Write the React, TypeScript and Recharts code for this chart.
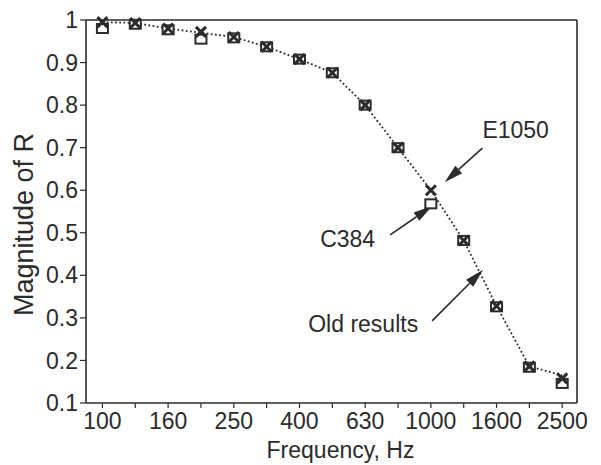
import React from "react";
import {
  ComposedChart,
  Line,
  XAxis,
  YAxis,
  ReferenceLine,
} from "recharts";

const frequencies = ["100", "125", "160", "200", "250", "315", "400", "500", "630", "800", "1000", "1250", "1600", "2000", "2500"];
const oldResults = [0.995, 0.993, 0.98, 0.97, 0.96, 0.937, 0.908, 0.876, 0.8, 0.7, 0.6, 0.482, 0.328, 0.186, 0.165];
const e1050 = [0.995, 0.993, 0.98, 0.972, 0.96, 0.937, 0.908, 0.876, 0.8, 0.7, 0.6, 0.482, 0.328, 0.186, 0.158];
const c384 = [0.98, 0.99, 0.977, 0.955, 0.958, 0.937, 0.908, 0.876, 0.8, 0.7, 0.568, 0.482, 0.326, 0.184, 0.146];
const yTicks = [0.1, 0.2, 0.3, 0.4, 0.5, 0.6, 0.7, 0.8, 0.9, 1];

const data = frequencies.map((f, i) => ({
  i,
  f,
  old: oldResults[i],
  e1050: e1050[i],
  c384: c384[i],
}));

const INK = "#2b2b2b";
const FONT = "'Liberation Sans', Arial, sans-serif";

const Cross = (props: any) => {
  const { cx, cy } = props;
  if (cx == null || cy == null) return null;
  const s = 5;
  return (
    <g>
      <line x1={cx - s} y1={cy - s} x2={cx + s} y2={cy + s} stroke={INK} strokeWidth={3} />
      <line x1={cx - s} y1={cy + s} x2={cx + s} y2={cy - s} stroke={INK} strokeWidth={3} />
    </g>
  );
};

const OpenSquare = (props: any) => {
  const { cx, cy } = props;
  if (cx == null || cy == null) return null;
  return <rect x={cx - 5.5} y={cy - 4.5} width={11} height={9} fill="#fff" stroke={INK} strokeWidth={2} />;
};

const YTitle = (props: any) => {
  const vb = props.viewBox || {};
  const cy = vb.y + vb.height / 2 + 13;
  return (
    <text
      x={24}
      y={cy}
      transform={`rotate(-90, 24, ${cy})`}
      textAnchor="middle"
      dominantBaseline="central"
      fontSize={27}
      fill={INK}
      fontFamily={FONT}
    >
      Magnitude of R
    </text>
  );
};

const XTitle = (props: any) => {
  const vb = props.viewBox || {};
  return (
    <text x={vb.x + vb.width / 2 + 9} y={458} textAnchor="middle" fontSize={23} fill={INK} fontFamily={FONT}>
      Frequency, Hz
    </text>
  );
};

// arrow from its start (next to the text) to the tip, plus the label
const arrowShape = (text: string, dx: number, dy: number, anchor: "start" | "end") => (props: any) => {
  const { x1, y1, x2, y2 } = props;
  if ([x1, y1, x2, y2].some((v) => v == null || isNaN(v))) return null;
  const ang = Math.atan2(y2 - y1, x2 - x1);
  const len = 19;
  const w = 5;
  const bx = x2 - len * Math.cos(ang);
  const by = y2 - len * Math.sin(ang);
  const px = -Math.sin(ang) * w;
  const py = Math.cos(ang) * w;
  return (
    <g>
      <line x1={x1} y1={y1} x2={bx} y2={by} stroke={INK} strokeWidth={1.6} />
      <polygon points={`${x2},${y2} ${bx + px},${by + py} ${bx - px},${by - py}`} fill={INK} />
      <text x={x1 + dx} y={y1 + dy} textAnchor={anchor} fontSize={23} fill={INK} fontFamily={FONT}>
        {text}
      </text>
    </g>
  );
};

export default function App() {
  return (
    <div style={{ position: "absolute", left: 0, top: 0, background: "#fff" }}>
      <ComposedChart
        width={601}
        height={465}
        data={data}
        margin={{ top: 20, right: 24, bottom: 0, left: 0 }}
        style={{ fontFamily: FONT }}
      >
        <XAxis
          dataKey="i"
          type="number"
          domain={[-0.5, 14.45]}
          ticks={data.map((d) => d.i)}
          interval={0}
          tickFormatter={(v: number) => (v % 2 === 0 ? frequencies[v] : "")}
          tick={{ fill: INK, fontSize: 23, fontFamily: FONT }}
          tickSize={5}
          tickMargin={5}
          axisLine={{ stroke: INK, strokeWidth: 1.6 }}
          tickLine={{ stroke: INK, strokeWidth: 1.2 }}
          height={62}
          label={<XTitle />}
        />
        <YAxis
          type="number"
          domain={[0.1, 1]}
          ticks={yTicks}
          interval={0}
          tickFormatter={(v: number) => (v === 1 ? "1" : v.toFixed(1))}
          tick={{ fill: INK, fontSize: 23, fontFamily: FONT }}
          tickSize={6}
          tickMargin={2}
          axisLine={{ stroke: INK, strokeWidth: 1.6 }}
          tickLine={{ stroke: INK, strokeWidth: 1.2 }}
          width={86}
          label={<YTitle />}
        />
        <ReferenceLine y={1} stroke={INK} strokeWidth={1.6} />
        <ReferenceLine x={14.45} stroke={INK} strokeWidth={1.6} />
        <Line
          dataKey="old"
          stroke={INK}
          strokeWidth={1.8}
          strokeDasharray="1.8 2.4"
          dot={false}
          activeDot={false}
          isAnimationActive={false}
        />
        <Line dataKey="c384" stroke="none" dot={<OpenSquare />} activeDot={false} isAnimationActive={false} />
        <Line dataKey="e1050" stroke="none" dot={<Cross />} activeDot={false} isAnimationActive={false} />
        <ReferenceLine
          segment={[{ x: 11.57, y: 0.699 }, { x: 10.42, y: 0.619 }]}
          shape={arrowShape("E1050", 0, -10, "start")}
        />
        <ReferenceLine
          segment={[{ x: 8.76, y: 0.495 }, { x: 10.04, y: 0.563 }]}
          shape={arrowShape("C384", -15, 12, "end")}
        />
        <ReferenceLine
          segment={[{ x: 10.04, y: 0.293 }, { x: 11.59, y: 0.413 }]}
          shape={arrowShape("Old results", -14, 11, "end")}
        />
      </ComposedChart>
    </div>
  );
}
